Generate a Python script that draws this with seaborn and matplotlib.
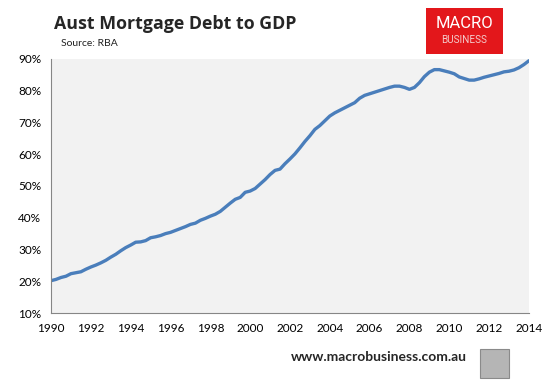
import numpy as np
import pandas as pd
import matplotlib.pyplot as plt
import matplotlib.patches as patches
import matplotlib.ticker as mticker
import seaborn as sns

# ========= DADOS (trimestral, % do PIB) ==========
start_year = 1990
debt_gdp = [
    20.2, 20.6, 21.2, 21.6, 22.4, 22.7, 23.0, 23.8,   # 1990-1991
    24.5, 25.1, 25.8, 26.6, 27.6, 28.5, 29.6, 30.6,   # 1992-1993
    31.4, 32.3, 32.4, 32.8, 33.7, 34.0, 34.4, 35.0,   # 1994-1995
    35.4, 36.0, 36.6, 37.2, 37.9, 38.3, 39.2, 39.8,   # 1996-1997
    40.5, 41.1, 42.0, 43.3, 44.6, 45.8, 46.4, 48.0,   # 1998-1999
    48.4, 49.2, 50.6, 52.0, 53.6, 54.9, 55.3, 57.0,   # 2000-2001
    58.5, 60.1, 62.0, 64.0, 65.8, 67.8, 69.0, 70.5,   # 2002-2003
    72.0, 73.0, 73.8, 74.6, 75.4, 76.2, 77.6, 78.5,   # 2004-2005
    79.0, 79.5, 80.0, 80.5, 81.0, 81.4, 81.4, 81.0,   # 2006-2007
    80.4, 81.0, 82.5, 84.4, 85.8, 86.6, 86.6, 86.2,   # 2008-2009
    85.8, 85.3, 84.3, 83.8, 83.3, 83.3, 83.7, 84.2,   # 2010-2011
    84.6, 85.0, 85.4, 85.9, 86.1, 86.5, 87.2, 88.2,   # 2012-2013
    89.4,                                             # 2014
]
year_ticks = list(range(1990, 2015, 2))
pct_ticks = [10, 20, 30, 40, 50, 60, 70, 80, 90]

df = pd.DataFrame({
    "ano": start_year + np.arange(len(debt_gdp)) / 4,
    "divida": debt_gdp,
})

# ========= ESTILO ==========
sns.set_style("white")
plt.rcParams["font.family"] = ["Lato", "DejaVu Sans"]
grey = "#868686"

fig = plt.figure(figsize=(5.55, 3.87), dpi=100)
ax = fig.add_axes([0.092, 0.191, 0.861, 0.657])
ax.set_facecolor("#f2f2f2")

sns.lineplot(data=df, x="ano", y="divida", ax=ax, color="#4a7ebb", linewidth=2.4)

ax.set_xlim(1990, 2014)
ax.set_ylim(10, 90)
ax.set_xticks(year_ticks)
ax.set_yticks(pct_ticks)
ax.yaxis.set_major_formatter(mticker.FuncFormatter(lambda v, p: f"{v:.0f}%"))
ax.set_xlabel("")
ax.set_ylabel("")
ax.tick_params(axis="both", length=4, width=0.8, color=grey, labelsize=8.5,
               labelcolor="black", direction="out")
ax.tick_params(axis="x", pad=3)
ax.tick_params(axis="y", pad=3)
for side in ["top", "right"]:
    ax.spines[side].set_visible(False)
for side in ["left", "bottom"]:
    ax.spines[side].set_color(grey)
    ax.spines[side].set_linewidth(0.8)

# ========= TÍTULOS ==========
fig.text(54 / 555, 1 - 24 / 387, "Aust Mortgage Debt to GDP", fontsize=12.8,
         fontweight="bold", va="center", ha="left",
         family=["Open Sans", "DejaVu Sans"])
fig.text(61 / 555, 1 - 44 / 387, "Source: RBA", fontsize=7.5, va="center",
         ha="left", color="#222222")

# ========= LOGO ==========
logo = patches.Rectangle((426 / 555, 1 - 54 / 387), 77 / 555, 46 / 387,
                         transform=fig.transFigure, facecolor="#e3171b",
                         edgecolor="none")
fig.patches.append(logo)
fig.text(464.5 / 555, 1 - 24 / 387, "MACRO", fontsize=12, color="white",
         ha="center", va="center", family=["Roboto", "DejaVu Sans"])
fig.text(464.5 / 555, 1 - 40 / 387, "BUSINESS", fontsize=7.2, color="#f3c9c9",
         ha="center", va="center", family=["Roboto", "DejaVu Sans"])

# ========= RODAPÉ ==========
fig.text(467 / 555, 1 - 357 / 387, "www.macrobusiness.com.au", fontsize=10,
         fontweight="bold", ha="right", va="center")
wolf = patches.Rectangle((480 / 555, 1 - 378 / 387), 29 / 555, 29 / 387,
                         transform=fig.transFigure, facecolor="#b5b5b5",
                         edgecolor="#8a8a8a", linewidth=0.8)
fig.patches.append(wolf)

fig.savefig("out.png", dpi=100)
